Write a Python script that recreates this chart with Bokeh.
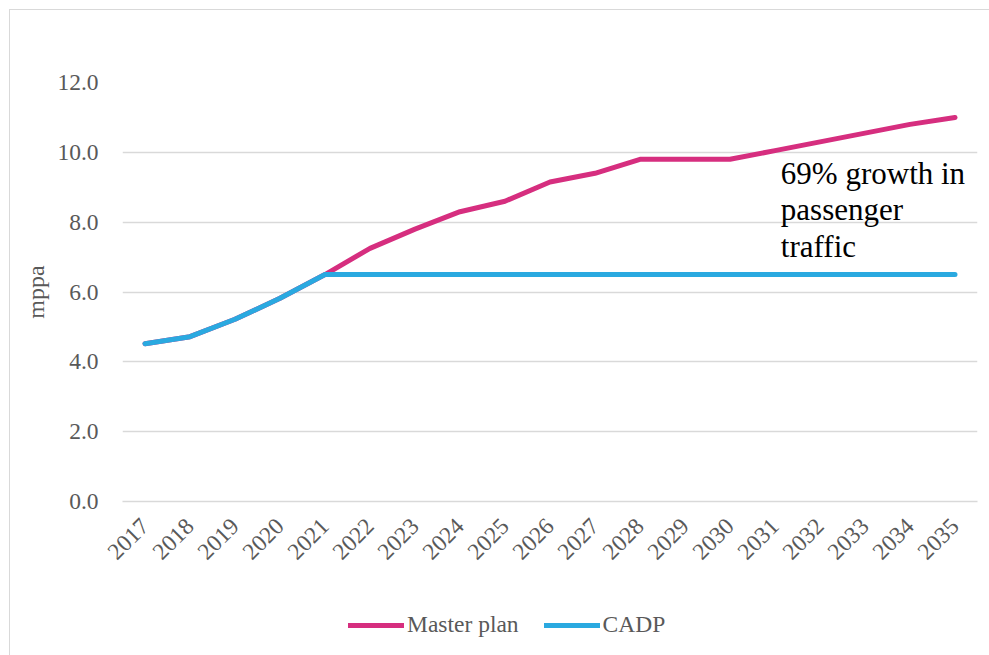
from bokeh.plotting import figure
from bokeh.layouts import column
from bokeh.models import Range1d, Legend, LegendItem, Label, FixedTicker, CustomJSTickFormatter
from bokeh.embed import file_html
from bokeh.resources import INLINE
import math

years = [str(y) for y in range(2017, 2036)]
master_plan = [4.52, 4.72, 5.22, 5.82, 6.5, 7.25, 7.8, 8.3, 8.6, 9.15,
               9.4, 9.8, 9.8, 9.8, 10.05, 10.3, 10.55, 10.8, 11.0]
cadp = [4.52, 4.72, 5.22, 5.82, 6.5, 6.5, 6.5, 6.5, 6.5, 6.5,
        6.5, 6.5, 6.5, 6.5, 6.5, 6.5, 6.5, 6.5, 6.5]
series_names = ["Master plan", "CADP"]
y_ticks = [0, 2, 4, 6, 8, 10, 12]
note_lines = ["69% growth in", "passenger", "traffic"]

SERIF = "'Liberation Serif', 'Times New Roman', serif"
GREY = "#595959"
GRID = "#d9d9d9"
PINK = "#d62e7f"
BLUE = "#2aa9e0"
LABEL_SIZE = "23.5px"
LINE_STYLE = dict(line_width=5, line_cap="round", line_join="round")

# main chart
p = figure(x_range=years, y_range=Range1d(0, 12),
           width=980, height=590, output_backend="svg", toolbar_location=None,
           min_border_left=112, min_border_right=13, min_border_top=72, min_border_bottom=99)
p.outline_line_color = None
p.background_fill_color = "white"
p.border_fill_color = "white"

p.xgrid.grid_line_color = None
p.ygrid.grid_line_color = GRID
p.ygrid.grid_line_width = 1.5
p.yaxis.ticker = FixedTicker(ticks=y_ticks)
p.yaxis.formatter = CustomJSTickFormatter(code="return tick.toFixed(1);")

for ax in (p.xaxis[0], p.yaxis[0]):
    ax.major_tick_line_color = None
    ax.minor_tick_line_color = None
    ax.major_label_text_font = SERIF
    ax.major_label_text_font_size = LABEL_SIZE
    ax.major_label_text_color = GREY
    ax.axis_label_text_font = SERIF
    ax.axis_label_text_font_size = "24px"
    ax.axis_label_text_color = GREY
    ax.axis_label_text_font_style = "normal"

p.yaxis.axis_line_color = None
p.yaxis.major_label_standoff = 18
p.yaxis.axis_label = "mppa"
p.yaxis.axis_label_standoff = 5
p.xaxis.axis_line_color = GRID
p.xaxis.axis_line_width = 1.5
p.xaxis.major_label_orientation = math.pi / 4
p.xaxis.major_label_standoff = 15

p.line(years, master_plan, line_color=PINK, **LINE_STYLE)
p.line(years, cadp, line_color=BLUE, **LINE_STYLE)

# callout, one line per Label
for txt, yv in zip(note_lines, [9.40, 8.37, 7.31]):
    p.add_layout(Label(x=14.63, y=yv, text=txt, text_font=SERIF, text_font_size="31px",
                       text_color="black", text_baseline="alphabetic", text_align="left"))

# legend strip under the chart (frames of the column are aligned)
lg = figure(width=980, height=56, x_range=Range1d(0, 1), y_range=Range1d(0, 1),
            output_backend="svg", toolbar_location=None,
            x_axis_location=None, y_axis_location=None,
            min_border_left=112, min_border_right=13, min_border_top=0, min_border_bottom=0)
lg.grid.visible = False
lg.outline_line_color = None
nan = float("nan")
lg_master = lg.line([nan], [nan], line_color=PINK, **LINE_STYLE)
lg_cadp = lg.line([nan], [nan], line_color=BLUE, **LINE_STYLE)

legend = Legend(items=[LegendItem(label=series_names[0], renderers=[lg_master]),
                       LegendItem(label=series_names[1], renderers=[lg_cadp])],
                orientation="horizontal", location=(226, 18),
                label_text_font=SERIF, label_text_font_size=LABEL_SIZE, label_text_color=GREY,
                glyph_width=56, glyph_height=24, label_height=24, label_standoff=3,
                spacing=25, padding=0, margin=0, border_line_color=None,
                background_fill_alpha=0)
lg.add_layout(legend, "center")

layout = column(p, lg, spacing=0)
layout.margin = (9, 0, 0, 9)
layout.styles = {"border-left": f"1px solid {GRID}", "border-top": f"1px solid {GRID}"}

open("out.html", "w").write(file_html(layout, INLINE))
